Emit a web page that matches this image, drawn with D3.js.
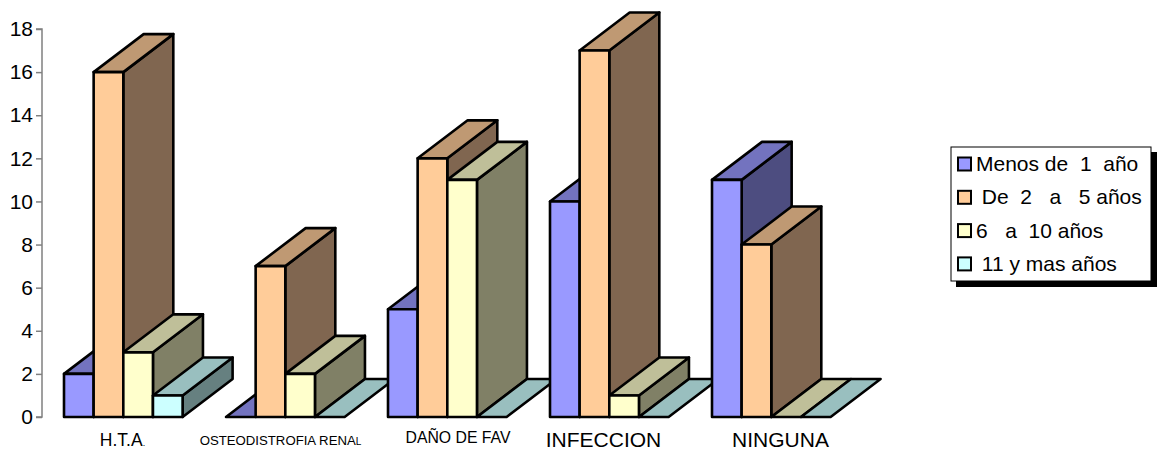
<!DOCTYPE html>
<html>
<head>
<meta charset="utf-8">
<script src="https://cdn.jsdelivr.net/npm/d3@7/dist/d3.min.js"></script>
<style>
html,body{margin:0;padding:0;background:#fff}
svg{display:block}
text{font-family:"Liberation Sans",Arial,sans-serif;fill:#000;white-space:pre}
</style>
</head>
<body>
<div id="chart"></div>
<script>
// Complications by time on dialysis, drawn as a hand-built 3D column chart
const categories = ["H.T.A.", "OSTEODISTROFIA RENAL", "DAÑO DE FAV", "INFECCION", "NINGUNA"];
const seriesNames = ["Menos de  1  año", " De  2   a   5 años", "6   a  10 años", " 11 y mas años"];
const menos1 = [2, 0, 5, 10, 11];
const de2a5 = [16, 7, 12, 17, 8];
const de6a10 = [3, 2, 11, 1, 0];
const de11 = [1, 0, 0, 0, 0];
const yTicks = [0, 2, 4, 6, 8, 10, 12, 14, 16, 18];
const categoryFontSizes = [17.5, 13.2, 15.8, 21, 21];
const lastLetterSizes = [9, 10, 15.8, 21, 21];
const categoryCenters = [122.5, 280.5, 458, 603.5, 780.5];
const categoryBaselines = [445.5, 445, 442.5, 446.5, 446.5];
const frontColors = ["#9999ff", "#ffcc99", "#ffffcc", "#ccffff"];
const topColors = ["#7373bf", "#bf9973", "#bfbf99", "#99bfbf"];
const sideColors = ["#4d4d80", "#806650", "#808066", "#668080"];

const seriesValues = [menos1, de2a5, de6a10, de11];
const W = 1162, H = 450;
const depthX = 50, depthY = -38;

const svg = d3.select("#chart").append("svg").attr("width", W).attr("height", H);

const y = d3.scaleLinear().domain([0, 18]).range([417, 29]);
const xGroup = d3.scaleBand().domain(d3.range(categories.length)).range([64, 874]).paddingInner(0).paddingOuter(0);
const xBar = d3.scaleBand().domain(d3.range(seriesNames.length)).range([0, 118.6]);

// Value axis
const axis = d3.axisLeft(y).tickValues(yTicks).tickSize(6).tickPadding(3);
const axisG = svg.append("g").attr("transform", "translate(42,0)").call(axis);
axisG.selectAll("path,line").attr("stroke", "#808080").attr("stroke-width", 1.5);
axisG.select("path").attr("d", `M-6,${y(18)}H0V${y(0)}H-6`).attr("fill", "none");
axisG.selectAll("text").attr("font-size", 21).style("font-family", '"Liberation Sans",Arial,sans-serif');

// Columns, painted left to right so each one overlaps the side of the previous
const line = d3.line();
const bars = [];
categories.forEach((c, i) => seriesNames.forEach((s, j) => bars.push({i, j, v: seriesValues[j][i]})));

const bar = svg.append("g").selectAll("g").data(bars).join("g")
  .attr("stroke", "#000").attr("stroke-width", 2.6).attr("stroke-linejoin", "round");

bar.each(function(d) {
  const g = d3.select(this);
  const x0 = xGroup(d.i) + xBar(d.j), x1 = x0 + xBar.bandwidth();
  const yb = y(0), yt = y(d.v);
  if (d.v > 0) {
    g.append("path").attr("fill", sideColors[d.j])
      .attr("d", line([[x1, yb], [x1 + depthX, yb + depthY], [x1 + depthX, yt + depthY], [x1, yt]]) + "Z");
  }
  g.append("path").attr("fill", topColors[d.j])
    .attr("d", line([[x0, yt], [x0 + depthX, yt + depthY], [x1 + depthX, yt + depthY], [x1, yt]]) + "Z");
  if (d.v > 0) {
    g.append("rect").attr("fill", frontColors[d.j])
      .attr("x", x0).attr("y", yt).attr("width", x1 - x0).attr("height", yb - yt);
  }
});

// Category labels; the closing letter of some labels is set smaller
svg.append("g").selectAll("text").data(categories).join("text")
  .attr("text-anchor", "middle")
  .attr("x", (d, i) => categoryCenters[i])
  .attr("y", (d, i) => categoryBaselines[i])
  .attr("font-size", (d, i) => categoryFontSizes[i])
  .each(function(d, i) {
    const t = d3.select(this);
    t.append("tspan").text(d.slice(0, -1));
    t.append("tspan").attr("font-size", lastLetterSizes[i]).text(d.slice(-1));
  });

// Legend with a hard drop shadow
const legend = svg.append("g");
legend.append("rect").attr("x", 956).attr("y", 152).attr("width", 201).attr("height", 135).attr("fill", "#000");
legend.append("rect").attr("x", 951).attr("y", 147).attr("width", 200).attr("height", 134)
  .attr("fill", "#fff").attr("stroke", "#000").attr("stroke-width", 1);
const item = legend.selectAll("g.item").data(seriesNames).join("g").attr("class", "item")
  .attr("transform", (d, i) => `translate(0,${164 + i * 33.3})`);
item.append("rect").attr("x", 958).attr("y", -6.5).attr("width", 13).attr("height", 13)
  .attr("fill", (d, i) => frontColors[i]).attr("stroke", "#000").attr("stroke-width", 2);
item.append("text").attr("x", 976).attr("y", 7).attr("font-size", 21).text(d => d);
</script>
</body>
</html>
